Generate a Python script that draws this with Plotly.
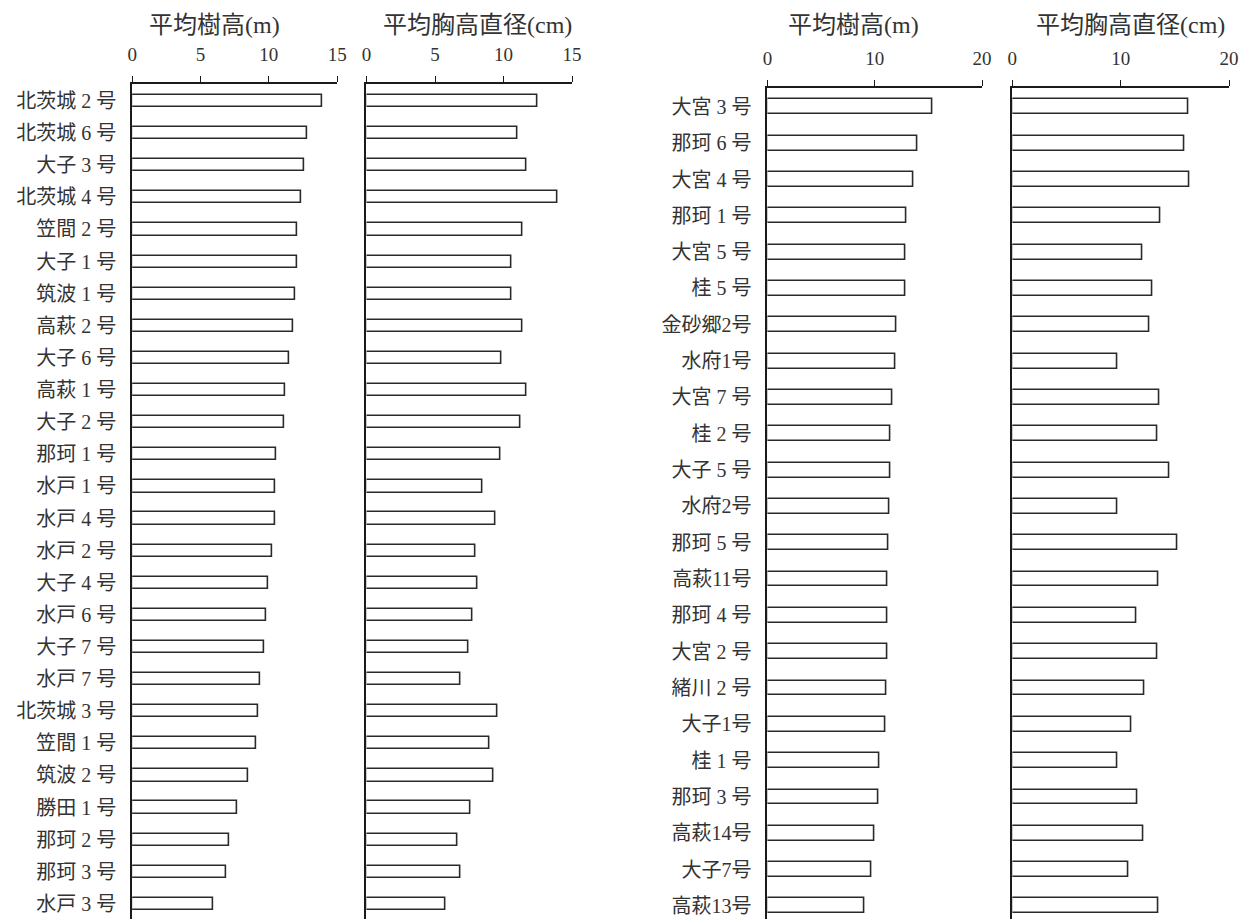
import plotly.graph_objects as go

# 左側グループ（上から順）
left_names = ["北茨城 2 号", "北茨城 6 号", "大子 3 号", "北茨城 4 号", "笠間 2 号",
              "大子 1 号", "筑波 1 号", "高萩 2 号", "大子 6 号", "高萩 1 号",
              "大子 2 号", "那珂 1 号", "水戸 1 号", "水戸 4 号", "水戸 2 号",
              "大子 4 号", "水戸 6 号", "大子 7 号", "水戸 7 号", "北茨城 3 号",
              "笠間 1 号", "筑波 2 号", "勝田 1 号", "那珂 2 号", "那珂 3 号",
              "水戸 3 号"]
left_height = [13.9, 12.8, 12.6, 12.4, 12.1, 12.1, 11.95, 11.8, 11.5, 11.2,
               11.15, 10.55, 10.5, 10.45, 10.25, 9.95, 9.8, 9.65, 9.35, 9.25,
               9.05, 8.5, 7.65, 7.1, 6.85, 5.95]
left_dbh = [12.45, 11.0, 11.7, 13.9, 11.4, 10.6, 10.6, 11.35, 9.85, 11.7,
            11.2, 9.8, 8.45, 9.4, 7.95, 8.1, 7.7, 7.45, 6.85, 9.55,
            8.95, 9.25, 7.6, 6.65, 6.85, 5.75]

# 右側グループ（上から順）
right_names = ["大宮 3 号", "那珂 6 号", "大宮 4 号", "那珂 1 号", "大宮 5 号",
               "桂 5 号", "金砂郷2号", "水府1号", "大宮 7 号", "桂 2 号",
               "大子 5 号", "水府2号", "那珂 5 号", "高萩11号", "那珂 4 号",
               "大宮 2 号", "緒川 2 号", "大子1号", "桂 1 号", "那珂 3 号",
               "高萩14号", "大子7号", "高萩13号"]
right_height = [15.35, 13.95, 13.6, 12.95, 12.9, 12.85, 12.0, 11.9, 11.6, 11.45,
                11.45, 11.4, 11.3, 11.2, 11.2, 11.15, 11.05, 10.95, 10.45, 10.3,
                9.95, 9.7, 9.05]
right_dbh = [16.2, 15.9, 16.35, 13.65, 12.0, 12.95, 12.6, 9.65, 13.6, 13.4,
             14.5, 9.65, 15.2, 13.5, 11.4, 13.4, 12.2, 10.95, 9.65, 11.55,
             12.1, 10.7, 13.5]

W, H = 1234, 913
FONT = "Liberation Serif, Noto Sans CJK JP"


# 画面上の位置(px) -> paper座標
def px_x(v):
    return min(max((v - 11.5) / 0.988 / W, 0), 1)


def px_y(v):
    return min(max(1 - (v - 7) / H, 0), 1)


bar_style = dict(orientation="h", marker=dict(color="white", line=dict(color="#2a2a2a", width=1.6)),
                 hoverinfo="x+y")

fig = go.Figure()
fig.add_bar(x=left_height, y=left_names, xaxis="x", yaxis="y", width=0.38, **bar_style)
fig.add_bar(x=left_dbh, y=left_names, xaxis="x2", yaxis="y2", width=0.38, **bar_style)
fig.add_bar(x=right_height, y=right_names, xaxis="x3", yaxis="y3", width=0.41, **bar_style)
fig.add_bar(x=right_dbh, y=right_names, xaxis="x4", yaxis="y4", width=0.41, **bar_style)

xcommon = dict(side="top", showline=True, linecolor="#1a1a1a", linewidth=1.5, ticks="outside",
               ticklen=6, tickcolor="#1a1a1a", showgrid=False, zeroline=False,
               tickfont=dict(size=19, color="#333"), ticklabelstandoff=8, fixedrange=True)
ycommon = dict(type="category", showline=True, linecolor="#1a1a1a", linewidth=1.8, ticks="",
               showgrid=False, zeroline=False, tickfont=dict(size=20, color="#333"),
               ticklabelstandoff=10, fixedrange=True)

left_dom = [px_y(918), px_y(83)]
right_dom = [px_y(918), px_y(87)]
left_range = [len(left_names) - 1 + 0.47, -0.53]
right_range = [len(right_names) - 1 + 0.36, -0.52]

fig.update_layout(
    width=W, height=H,
    margin=dict(l=0, r=0, t=0, b=0),
    paper_bgcolor="white", plot_bgcolor="white",
    font=dict(family=FONT, color="#333"),
    showlegend=False,
    bargap=0,
    xaxis=dict(domain=[px_x(130.7), px_x(335.7)], range=[0, 15], tickvals=[0, 5, 10, 15], anchor="y", **xcommon),
    xaxis2=dict(domain=[px_x(365), px_x(570.7)], range=[0, 15], tickvals=[0, 5, 10, 15], anchor="y2", **xcommon),
    xaxis3=dict(domain=[px_x(766), px_x(980.7)], range=[0, 20], tickvals=[0, 10, 20], anchor="y3", **xcommon),
    xaxis4=dict(domain=[px_x(1011), px_x(1227.7)], range=[0, 20], tickvals=[0, 10, 20], anchor="y4", **xcommon),
    yaxis=dict(domain=left_dom, range=left_range, anchor="x", **ycommon),
    yaxis2=dict(domain=left_dom, range=left_range, anchor="x2", showticklabels=False, **ycommon),
    yaxis3=dict(domain=right_dom, range=right_range, anchor="x3", **ycommon),
    yaxis4=dict(domain=right_dom, range=right_range, anchor="x4", showticklabels=False, **ycommon),
)

# パネルの見出し
titles = [("平均樹高(m)", 213), ("平均胸高直径(cm)", 476), ("平均樹高(m)", 852), ("平均胸高直径(cm)", 1129)]
for text, cx in titles:
    fig.add_annotation(text=text, x=px_x(cx), y=px_y(24), xref="paper", yref="paper",
                       showarrow=False, xanchor="center", yanchor="middle",
                       font=dict(size=24, color="#333", family=FONT))

fig.write_html("out.html")
